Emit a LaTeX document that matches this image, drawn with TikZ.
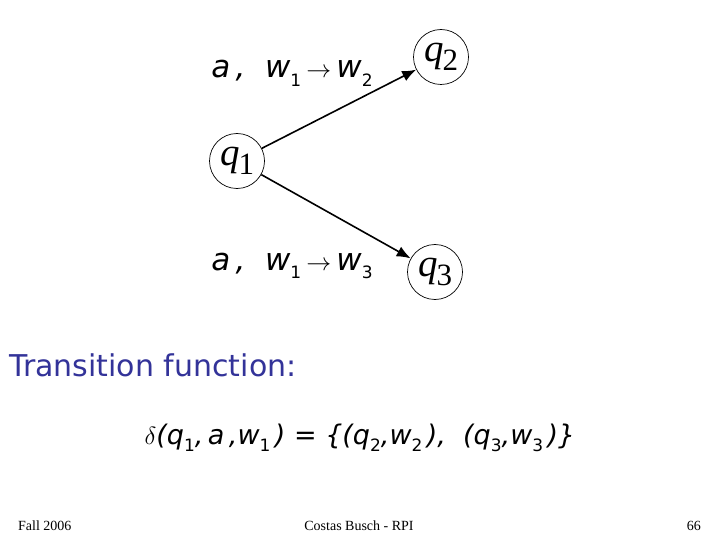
\documentclass[tikz,border=0pt]{standalone}
\usepackage{fontspec}
\setmainfont{Liberation Serif}
\newfontfamily\lbl{DejaVu Sans}
\newfontfamily\ttl{DejaVu Sans}
\usetikzlibrary{arrows.meta}
\definecolor{slateblue}{RGB}{51,51,153}
\newcommand{\sbs}[1]{\raisebox{-0.28em}{\fontsize{17}{17}\selectfont\upshape #1}}
\newcommand{\qsub}[1]{\raisebox{-0.22em}{\fontsize{31}{31}\selectfont\upshape #1}}
\begin{document}
\begin{tikzpicture}[x=1pt,y=-1pt,
  state/.style={circle,draw,line width=0.7pt,minimum size=55pt,inner sep=0pt,
    font=\fontsize{39}{39}\selectfont},
  edge/.style={line width=1.6pt,-{Latex[length=14pt,width=11pt]}},
  lab/.style={inner sep=0pt,font=\lbl\fontsize{31}{31}\selectfont\itshape},
  foot/.style={inner sep=0pt,font=\fontsize{14}{14}\selectfont}]
\useasboundingbox (0,0) rectangle (720,540);
\node[state] (q1) at (237,161) {\textit{q}\kern-1pt\qsub{1}};
\node[state] (q2) at (441,57) {\textit{q}\kern-1pt\qsub{2}};
\node[state] (q3) at (435,272) {\textit{q}\kern-1pt\qsub{3}};
\draw[edge] (q1) -- (q2);
\draw[edge] (q1) -- (q3);
\node[lab] (l1) at (292,73) {a\,,\ \ w\sbs{1}\,{\upshape$\rightarrow$}\,w\sbs{2}};
\node[lab] (l2) at (292,266) {a\,,\ \ w\sbs{1}\,{\upshape$\rightarrow$}\,w\sbs{3}};
\node[inner sep=0pt,anchor=west,text=slateblue,font=\ttl\fontsize{30}{30}\selectfont] (tf) at (9,365) {Transition function:};
\node[lab,font=\lbl\fontsize{27}{27}\selectfont\itshape] (fm) at (360,438) {{\upshape\fontsize{32}{32}\selectfont$\delta$}({q}\sbs{1},\,a\,,w\sbs{1}\,) {\upshape =} \{({q}\sbs{2},w\sbs{2}\,),\ \ ({q}\sbs{3},w\sbs{3}\,)\}};
\node[foot,anchor=west] (f1) at (18,526) {Fall 2006};
\node[foot] (f2) at (359,526) {Costas Busch - RPI};
\node[foot,anchor=east] (f3) at (701,526) {66};
\end{tikzpicture}
\end{document}
